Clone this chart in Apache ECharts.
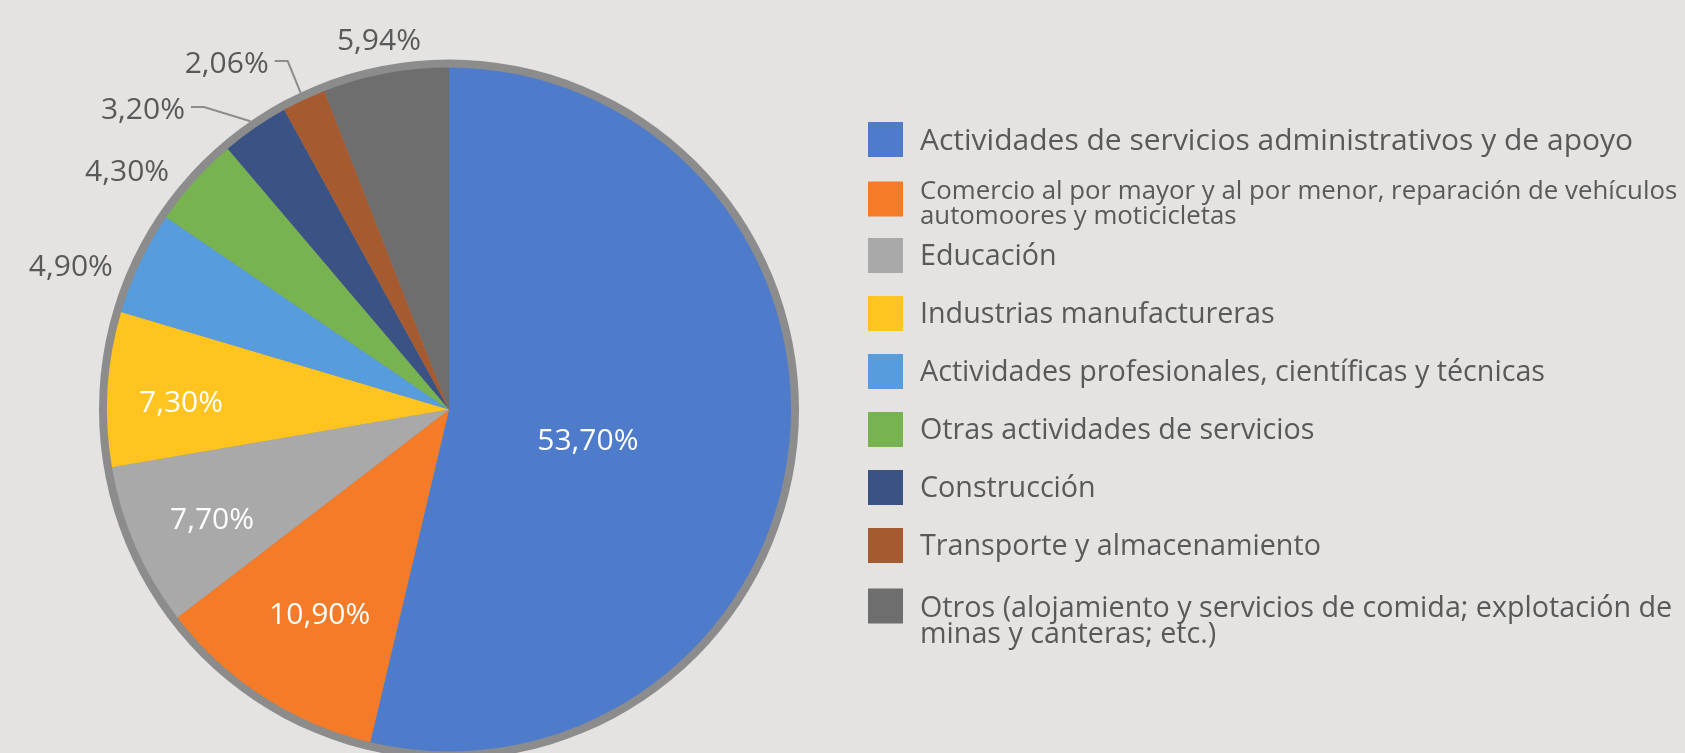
<!DOCTYPE html>
<html>
<head>
<meta charset="utf-8">
<script src="https://cdn.jsdelivr.net/npm/echarts@6/dist/echarts.min.js"></script>
<style>
  html, body { margin: 0; padding: 0; background: #e4e3e1; }
  #chart { width: 1685px; height: 753px; }
</style>
</head>
<body>
<div id="chart"></div>
<script>
// sectores (orden del gráfico, empezando arriba y en sentido horario)
var categories = [
    'Actividades de servicios administrativos y de apoyo',
    'Comercio al por mayor y al por menor, reparación de vehículos\nautomoores y moticicletas',
    'Educación',
    'Industrias manufactureras',
    'Actividades profesionales, científicas y técnicas',
    'Otras actividades de servicios',
    'Construcción',
    'Transporte y almacenamiento',
    'Otros (alojamiento y servicios de comida; explotación de\nminas y canteras; etc.)'
]
var shares = [53.7, 10.9, 7.7, 7.3, 4.9, 4.3, 3.2, 2.06, 5.94]

var colors = ['#4f7cca', '#f47b28', '#a9a9a9', '#ffc41f', '#579cdc', '#77b350', '#3b5384', '#a65a30', '#6e6e6e']

var cx = 449, cy = 409.5, R = 342, ringR = 350
var font = 'Open Sans'
var textGray = '#595959'

// label placement: radius ratio, angle nudge (deg), alignment
var labelPlace = [
    { r: 0.415, d: 5.3, align: 'center' },
    { r: 0.705, d: -0.5, align: 'center' },
    { r: 0.762, d: -1.0, align: 'center' },
    { r: 0.784, d: -1.5, align: 'center' },
    { r: 1.07, d: -2.1, align: 'right' },
    { r: 1.077, d: -1.4, align: 'right' },
    { r: 1.173, d: -6.6, align: 'right', line: true },
    { r: 1.146, d: -2.3, align: 'right', line: true },
    { r: 1.104, d: 0, align: 'center' }
]

var total = shares.reduce(function (a, b) { return a + b }, 0)
function midAngle(i) {
    var before = 0
    for (var k = 0; k < i; k++) before += shares[k]
    return (before + shares[i] / 2) / total * 360
}
function polar(deg, r) {
    var t = deg * Math.PI / 180
    return [cx + r * Math.sin(t), cy - r * Math.cos(t)]
}

var chart = echarts.init(document.getElementById('chart'))

// legend rows: font size, line height, spacer line on top (pushes the text down)
function legendRow(i) {
    if (i === 0) return { fs: 30, lh: 30, sp: 3, top: 122 }
    if (i === 1) return { fs: 25.8, lh: 25, sp: 10, top: 173 }
    if (i === 8) return { fs: 28.7, lh: 26, sp: 32, top: 579 }
    return { fs: 28.7, lh: 30, sp: 3, top: 122 + 58 * i }
}

var legends = categories.map(function (name, i) {
    var row = legendRow(i)
    return {
        orient: 'vertical',
        left: 868,
        top: row.top,
        padding: 0,
        icon: 'rect',
        itemWidth: 35,
        itemHeight: 35,
        selectedMode: false,
        data: [name],
        formatter: function (n) {
            return '{sp| }\n' + n.split('\n').map(function (l) { return '{t|' + l + '}' }).join('\n')
        },
        textStyle: {
            color: textGray,
            fontFamily: font,
            fontSize: row.fs,
            padding: [0, 0, 0, 12],
            rich: {
                sp: { fontSize: 2, lineHeight: row.sp },
                t: { color: textGray, fontFamily: font, fontSize: row.fs, lineHeight: row.lh }
            }
        }
    }
})

var option = {
    backgroundColor: '#e4e3e1',
    animation: false,
    color: colors,
    legend: legends,
    series: [
        {
            type: 'pie',
            silent: true,
            center: [cx, cy],
            radius: ringR,
            label: { show: false },
            labelLine: { show: false },
            itemStyle: { color: '#8c8c8c' },
            data: [{ value: 1, name: 'borde' }]
        },
        {
            type: 'pie',
            silent: true,
            center: [cx, cy],
            radius: R,
            startAngle: 90,
            clockwise: true,
            avoidLabelOverlap: false,
            itemStyle: { borderWidth: 0 },
            label: {
                show: true,
                fontFamily: font,
                fontSize: 30,
                formatter: function (p) {
                    return p.value.toFixed(2).replace('.', ',') + '%'
                }
            },
            labelLine: { show: false, lineStyle: { color: '#8c8c8c', width: 2 } },
            labelLayout: function (p) {
                var i = p.dataIndex
                var pl = labelPlace[i]
                var m = midAngle(i)
                var pt = polar(m + pl.d, R * pl.r)
                var y = pt[1] + 2.5
                var out = { x: pt[0], y: y, align: pl.align, verticalAlign: 'middle' }
                if (pl.line) {
                    var edge = polar(m, ringR)
                    out.labelLinePoints = [edge, [pt[0] + 19, y - 3], [pt[0] + 6, y - 3]]
                }
                return out
            },
            data: categories.map(function (name, i) {
                var inside = i < 4
                return {
                    name: name,
                    value: shares[i],
                    label: { position: inside ? 'inside' : 'outside', color: inside ? '#ffffff' : textGray },
                    labelLine: { show: !!labelPlace[i].line }
                }
            })
        }
    ]
}

chart.setOption(option)
</script>
</body>
</html>
